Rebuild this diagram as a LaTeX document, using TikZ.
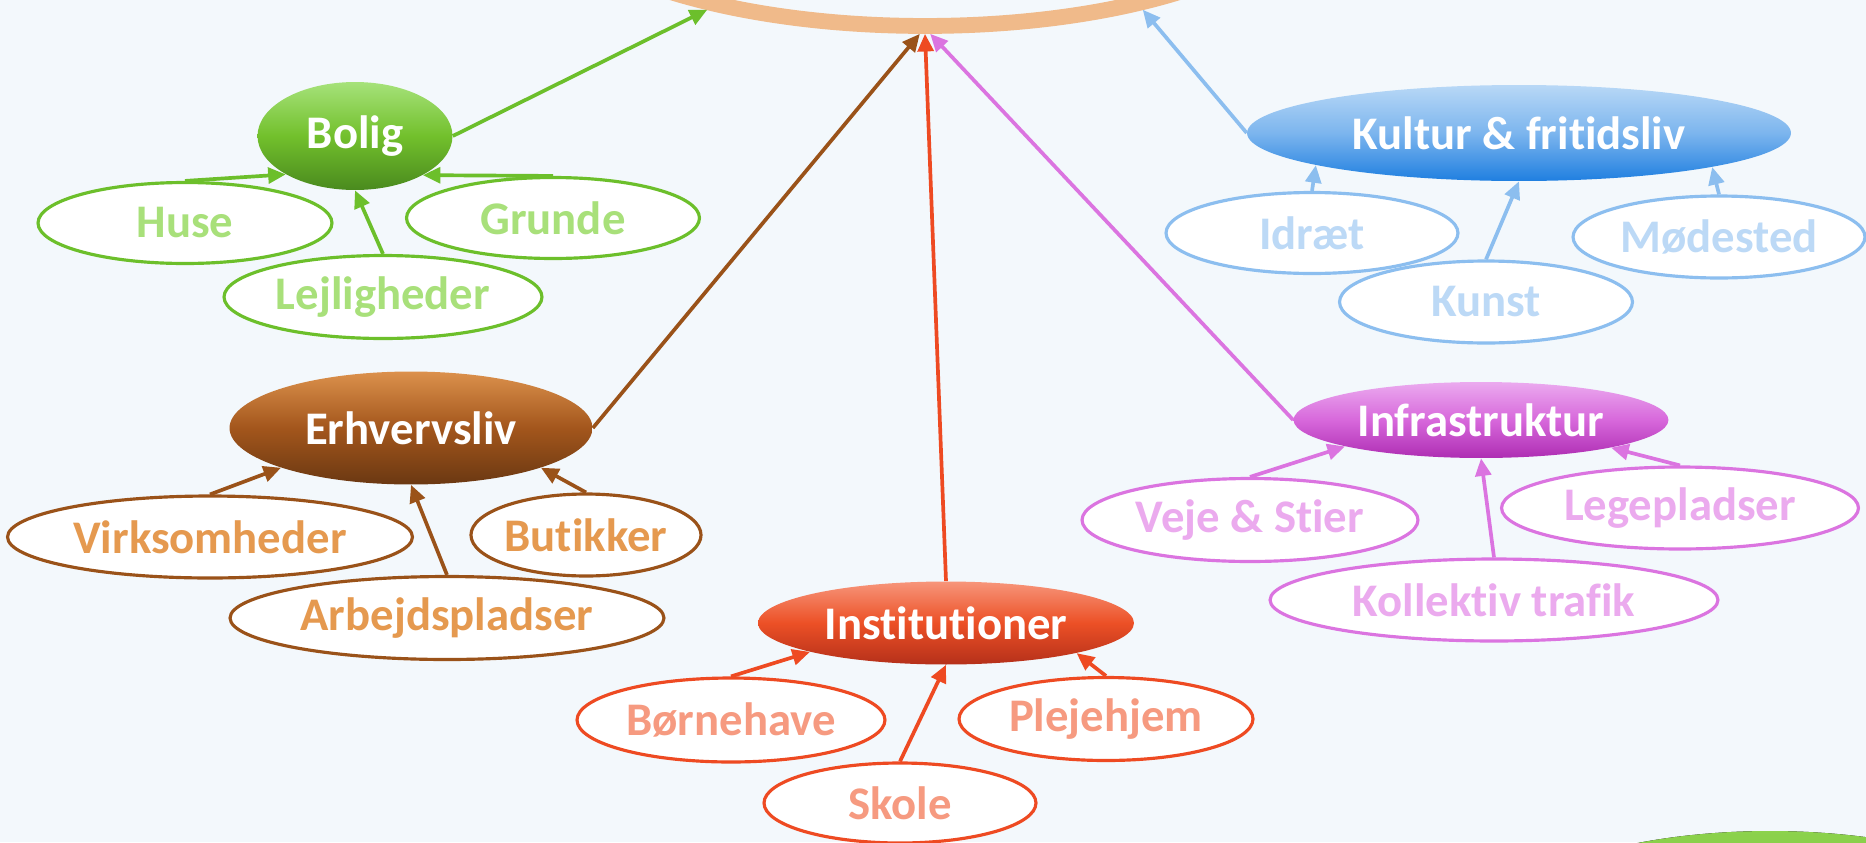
\documentclass[tikz,border=0pt]{standalone}
\usepackage{fontspec}
\setmainfont{Carlito}[Ligatures=NoCommon]
\usetikzlibrary{shapes.geometric,arrows.meta}

\definecolor{baggrund}{HTML}{F3F8FC}
\definecolor{fersken}{HTML}{F0BA8A}
\definecolor{graestop}{HTML}{8CD24C}
\definecolor{graesbund}{HTML}{5CA82C}
\definecolor{groen}{HTML}{6CBF2B}
\definecolor{groenlys}{HTML}{A8E07A}
\definecolor{groentop}{HTML}{A6E27A}
\definecolor{groenmid}{HTML}{72C02C}
\definecolor{groenbund}{HTML}{4A8A1E}
\definecolor{brun}{HTML}{9A5219}
\definecolor{brunlys}{HTML}{E5994F}
\definecolor{bruntop}{HTML}{DC914C}
\definecolor{brunmid}{HTML}{A3561C}
\definecolor{brunbund}{HTML}{6B3812}
\definecolor{roed}{HTML}{EE4A22}
\definecolor{roedlys}{HTML}{F69A80}
\definecolor{roedtop}{HTML}{F7957A}
\definecolor{roedmid}{HTML}{EC5026}
\definecolor{roedbund}{HTML}{B5301A}
\definecolor{lilla}{HTML}{DB74E0}
\definecolor{lillalys}{HTML}{EBAAEE}
\definecolor{lillatop}{HTML}{EBAAEF}
\definecolor{lillamid}{HTML}{D768DB}
\definecolor{lillabund}{HTML}{AE2DB3}
\definecolor{blaa}{HTML}{8CBEEF}
\definecolor{blaalys}{HTML}{BCD9F6}
\definecolor{blaatop}{HTML}{B8D8F6}
\definecolor{blaamid}{HTML}{7CB5EE}
\definecolor{blaabund}{HTML}{1F7FE0}

\begin{document}
\begin{tikzpicture}[x=0.02cm, y=-0.02cm,
  emne/.style={ellipse, inner sep=0pt, text=white, font=\bfseries\fontsize{26.6}{30}\selectfont},
  punkt/.style={ellipse, draw, fill=white, line width=1.8pt, inner sep=0pt, font=\bfseries\fontsize{26.6}{30}\selectfont},
  pil/.style={line width=2.1pt, -{Triangle[length=10pt,width=9pt]}}]
\useasboundingbox (0,0) rectangle (1866,842);
\clip (0,0) rectangle (1866,842);
\fill [baggrund] (0,0) rectangle (1866,842);
\fill [top color=graestop, bottom color=graesbund] (1770,948) ellipse [x radius=6cm, y radius=2.34cm];

\node [ellipse, draw=fersken, line width=9pt, minimum width=15.68cm, minimum height=5.68cm] (maal) at (925,-116) {};

\node [emne, top color=groentop, bottom color=groenbund, middle color=groenmid, minimum width=3.9cm, minimum height=2.16cm] (bolig) at (355,136) {Bolig};
\node [punkt, draw=groen, text=groenlys, minimum width=5.88cm, minimum height=1.62cm] (huse) at (185,223) {Huse};
\node [punkt, draw=groen, text=groenlys, minimum width=5.86cm, minimum height=1.62cm] (grunde) at (553,218) {Grunde};
\node [punkt, draw=groen, text=groenlys, minimum width=6.36cm, minimum height=1.66cm] (lejligheder) at (383,297) {Lejligheder};
\draw [pil, groen] (huse.north) -- (bolig.209.8);
\draw [pil, groen] (grunde.north) -- (bolig.330.9);
\draw [pil, groen] (lejligheder.north) -- (bolig.south);
\draw [pil, groen] (bolig.east) -- (maal.210);

\node [emne, top color=bruntop, bottom color=brunbund, middle color=brunmid, minimum width=7.26cm, minimum height=2.26cm] (erhvervsliv) at (411,428) {Erhvervsliv};
\node [punkt, draw=brun, text=brunlys, minimum width=8.1cm, minimum height=1.64cm] (virksomheder) at (210,537) {Virksomheder};
\node [punkt, draw=brun, text=brunlys, minimum width=4.5cm, minimum height=1.64cm] (butikker) at (586,535) {Butikker};
\node [punkt, draw=brun, text=brunlys, minimum width=8.68cm, minimum height=1.66cm] (arbejdspladser) at (447,618) {Arbejdspladser};
\draw [pil, brun] (virksomheder.north) -- (erhvervsliv.197);
\draw [pil, brun] (arbejdspladser.north) -- (erhvervsliv.south);
\draw [pil, brun] (butikker.north) -- (erhvervsliv.343);
\draw [pil, brun] (erhvervsliv.east) -- (maal.268);

\node [emne, top color=roedtop, bottom color=roedbund, middle color=roedmid, minimum width=7.52cm, minimum height=1.66cm] (institutioner) at (946,623) {Institutioner};
\node [punkt, draw=roed, text=roedlys, minimum width=6.16cm, minimum height=1.68cm] (boernehave) at (731,720) {Børnehave};
\node [punkt, draw=roed, text=roedlys, minimum width=5.88cm, minimum height=1.66cm] (plejehjem) at (1106,719) {Plejehjem};
\node [punkt, draw=roed, text=roedlys, minimum width=5.44cm, minimum height=1.6cm] (skole) at (900,803) {Skole};
\draw [pil, roed] (boernehave.north) -- (institutioner.192.2);
\draw [pil, roed] (skole.north) -- (institutioner.south);
\draw [pil, roed] (plejehjem.north) -- (institutioner.347.8);
\draw [pil, roed] (institutioner.north) -- (maal.south);

\node [emne, top color=lillatop, bottom color=lillabund, middle color=lillamid, minimum width=7.5cm, minimum height=1.52cm] (infrastruktur) at (1481,420) {Infrastruktur};
\node [punkt, draw=lilla, text=lillalys, minimum width=6.72cm, minimum height=1.66cm] (veje) at (1250,520) {Veje \& Stier};
\node [punkt, draw=lilla, text=lillalys, minimum width=7.14cm, minimum height=1.64cm] (legepladser) at (1680,508) {Legepladser};
\node [punkt, draw=lilla, text=lillalys, minimum width=8.96cm, minimum height=1.64cm] (kollektiv) at (1494,600) {Kollektiv trafik};
\draw [pil, lilla] (veje.north) -- (infrastruktur.191.5);
\draw [pil, lilla] (kollektiv.north) -- (infrastruktur.south);
\draw [pil, lilla] (legepladser.north) -- (infrastruktur.348.8);
\draw [pil, lilla] (infrastruktur.west) -- (maal.272);

\node [emne, top color=blaatop, bottom color=blaabund, middle color=blaamid, minimum width=10.88cm, minimum height=1.92cm] (kultur) at (1519,133) {Kultur \& fritidsliv};
\node [punkt, draw=blaa, text=blaalys, minimum width=5.84cm, minimum height=1.62cm] (idraet) at (1312,233) {Idræt};
\node [punkt, draw=blaa, text=blaalys, minimum width=5.86cm, minimum height=1.64cm] (kunst) at (1486,302) {Kunst};
\node [punkt, draw=blaa, text=blaalys, minimum width=5.84cm, minimum height=1.64cm] (moedested) at (1719,237) {Mødested};
\draw [pil, blaa] (idraet.north) -- (kultur.189.75);
\draw [pil, blaa] (kunst.north) -- (kultur.south);
\draw [pil, blaa] (moedested.north) -- (kultur.350.3);
\draw [pil, blaa] (kultur.west) -- (maal.330);
\end{tikzpicture}
\end{document}
